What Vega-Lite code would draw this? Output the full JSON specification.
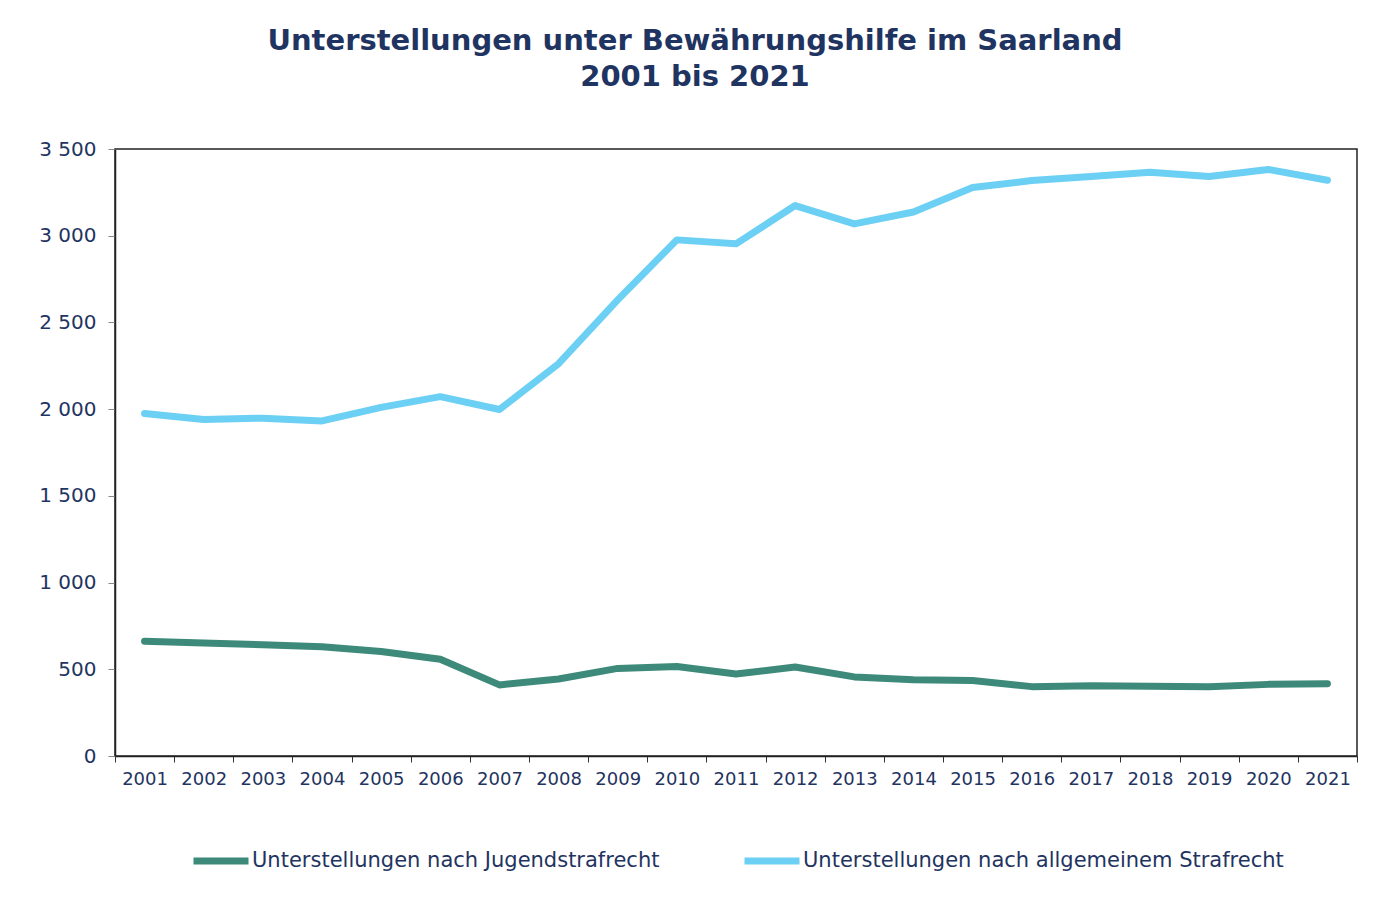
{
  "$schema": "https://vega.github.io/schema/vega-lite/v6.json",
  "width": 1242,
  "height": 607,
  "autosize": "none",
  "padding": {"left": 115, "top": 149, "right": 32, "bottom": 146},
  "background": "white",
  "title": {
    "text": ["Unterstellungen unter Bewährungshilfe im Saarland", "2001 bis 2021"],
    "font": "DejaVu Sans",
    "fontSize": 29,
    "fontWeight": "bold",
    "color": "#1F3461",
    "lineHeight": 36,
    "anchor": "middle",
    "dx": -41,
    "offset": 47
  },
  "config": {
    "view": {"stroke": "#222222", "strokeWidth": 1.5},
    "font": "DejaVu Sans"
  },
  "data": {
    "values": [
      {"jahr": "2001", "serie": "Unterstellungen nach Jugendstrafrecht", "wert": 662},
      {"jahr": "2002", "serie": "Unterstellungen nach Jugendstrafrecht", "wert": 652},
      {"jahr": "2003", "serie": "Unterstellungen nach Jugendstrafrecht", "wert": 641},
      {"jahr": "2004", "serie": "Unterstellungen nach Jugendstrafrecht", "wert": 630},
      {"jahr": "2005", "serie": "Unterstellungen nach Jugendstrafrecht", "wert": 603},
      {"jahr": "2006", "serie": "Unterstellungen nach Jugendstrafrecht", "wert": 558},
      {"jahr": "2007", "serie": "Unterstellungen nach Jugendstrafrecht", "wert": 410},
      {"jahr": "2008", "serie": "Unterstellungen nach Jugendstrafrecht", "wert": 444},
      {"jahr": "2009", "serie": "Unterstellungen nach Jugendstrafrecht", "wert": 505},
      {"jahr": "2010", "serie": "Unterstellungen nach Jugendstrafrecht", "wert": 516},
      {"jahr": "2011", "serie": "Unterstellungen nach Jugendstrafrecht", "wert": 473},
      {"jahr": "2012", "serie": "Unterstellungen nach Jugendstrafrecht", "wert": 513},
      {"jahr": "2013", "serie": "Unterstellungen nach Jugendstrafrecht", "wert": 456},
      {"jahr": "2014", "serie": "Unterstellungen nach Jugendstrafrecht", "wert": 440},
      {"jahr": "2015", "serie": "Unterstellungen nach Jugendstrafrecht", "wert": 435},
      {"jahr": "2016", "serie": "Unterstellungen nach Jugendstrafrecht", "wert": 400},
      {"jahr": "2017", "serie": "Unterstellungen nach Jugendstrafrecht", "wert": 405},
      {"jahr": "2018", "serie": "Unterstellungen nach Jugendstrafrecht", "wert": 402},
      {"jahr": "2019", "serie": "Unterstellungen nach Jugendstrafrecht", "wert": 399},
      {"jahr": "2020", "serie": "Unterstellungen nach Jugendstrafrecht", "wert": 413},
      {"jahr": "2021", "serie": "Unterstellungen nach Jugendstrafrecht", "wert": 417},
      {"jahr": "2001", "serie": "Unterstellungen nach allgemeinem Strafrecht", "wert": 1975},
      {"jahr": "2002", "serie": "Unterstellungen nach allgemeinem Strafrecht", "wert": 1940},
      {"jahr": "2003", "serie": "Unterstellungen nach allgemeinem Strafrecht", "wert": 1948},
      {"jahr": "2004", "serie": "Unterstellungen nach allgemeinem Strafrecht", "wert": 1932},
      {"jahr": "2005", "serie": "Unterstellungen nach allgemeinem Strafrecht", "wert": 2010},
      {"jahr": "2006", "serie": "Unterstellungen nach allgemeinem Strafrecht", "wert": 2072},
      {"jahr": "2007", "serie": "Unterstellungen nach allgemeinem Strafrecht", "wert": 1998},
      {"jahr": "2008", "serie": "Unterstellungen nach allgemeinem Strafrecht", "wert": 2262},
      {"jahr": "2009", "serie": "Unterstellungen nach allgemeinem Strafrecht", "wert": 2630},
      {"jahr": "2010", "serie": "Unterstellungen nach allgemeinem Strafrecht", "wert": 2976},
      {"jahr": "2011", "serie": "Unterstellungen nach allgemeinem Strafrecht", "wert": 2953},
      {"jahr": "2012", "serie": "Unterstellungen nach allgemeinem Strafrecht", "wert": 3174},
      {"jahr": "2013", "serie": "Unterstellungen nach allgemeinem Strafrecht", "wert": 3068},
      {"jahr": "2014", "serie": "Unterstellungen nach allgemeinem Strafrecht", "wert": 3137},
      {"jahr": "2015", "serie": "Unterstellungen nach allgemeinem Strafrecht", "wert": 3278},
      {"jahr": "2016", "serie": "Unterstellungen nach allgemeinem Strafrecht", "wert": 3318},
      {"jahr": "2017", "serie": "Unterstellungen nach allgemeinem Strafrecht", "wert": 3342},
      {"jahr": "2018", "serie": "Unterstellungen nach allgemeinem Strafrecht", "wert": 3366},
      {"jahr": "2019", "serie": "Unterstellungen nach allgemeinem Strafrecht", "wert": 3342},
      {"jahr": "2020", "serie": "Unterstellungen nach allgemeinem Strafrecht", "wert": 3382},
      {"jahr": "2021", "serie": "Unterstellungen nach allgemeinem Strafrecht", "wert": 3320}
    ]
  },
  "mark": {"type": "line", "strokeWidth": 7, "strokeCap": "round", "strokeJoin": "round"},
  "encoding": {
    "x": {
      "field": "jahr",
      "type": "ordinal",
      "scale": {"type": "band", "paddingInner": 0, "paddingOuter": 0},
      "axis": {
        "title": null,
        "labelAngle": 0,
        "tickBand": "extent",
        "labelFontSize": 18,
        "labelColor": "#1F3461",
        "labelPadding": 8,
        "tickSize": 6,
        "tickColor": "#333333",
        "domainColor": "#222222",
        "domainWidth": 1.5,
        "grid": false
      }
    },
    "y": {
      "field": "wert",
      "type": "quantitative",
      "scale": {"domain": [0, 3500], "nice": false},
      "axis": {
        "title": null,
        "values": [0, 500, 1000, 1500, 2000, 2500, 3000, 3500],
        "labelExpr": "replace(format(datum.value, ','), ',', ' ')",
        "labelFontSize": 20,
        "labelColor": "#1F3461",
        "labelPadding": 12,
        "tickSize": 7,
        "tickColor": "#888888",
        "domainColor": "#222222",
        "domainWidth": 1.5,
        "grid": false
      }
    },
    "color": {
      "field": "serie",
      "type": "nominal",
      "sort": ["Unterstellungen nach Jugendstrafrecht", "Unterstellungen nach allgemeinem Strafrecht"],
      "scale": {
        "domain": ["Unterstellungen nach Jugendstrafrecht", "Unterstellungen nach allgemeinem Strafrecht"],
        "range": ["#3D8A7A", "#6CCFF4"]
      },
      "legend": {
        "title": null,
        "orient": "none",
        "legendX": 75,
        "legendY": 681,
        "direction": "horizontal",
        "symbolType": "stroke",
        "symbolSize": 3025,
        "symbolStrokeWidth": 7,
        "labelFontSize": 21,
        "labelColor": "#1F3461",
        "labelOffset": 0,
        "columnPadding": 70,
        "padding": 0,
        "labelLimit": 600
      }
    }
  }
}
